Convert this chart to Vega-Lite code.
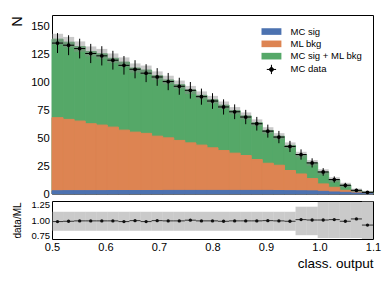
{
  "$schema": "https://vega.github.io/schema/vega-lite/v6.json",
  "padding": {"left": 9, "top": 14, "right": 8, "bottom": 4},
  "bounds": "flush",
  "spacing": 7,
  "config": {
    "font": "Liberation Sans",
    "view": {"stroke": "#000000", "strokeWidth": 1},
    "axis": {"grid": false, "domain": false, "tickColor": "#000000", "labelColor": "#000000", "titleColor": "#000000", "titleFontWeight": "normal", "labelFont": "Liberation Sans", "titleFont": "Liberation Sans", "zindex": 1, "labelOverlap": false, "labelBound": false, "labelFlush": false}
  },
  "datasets": {
    "bins": [
      {"x0": 0.5, "x1": 0.5207, "xc": 0.5103, "sig": 2.9, "bkg": 68.2, "tot": 138.4, "hlo": 133.6, "hhi": 143.2, "n": 134.9, "nlo": 126.0, "nhi": 143.8, "ratio": 0.975, "rlo": 0.83, "rhi": 1.13},
      {"x0": 0.5207, "x1": 0.5414, "xc": 0.531, "sig": 3.0, "bkg": 66.7, "tot": 135.7, "hlo": 131.0, "hhi": 140.4, "n": 133.0, "nlo": 124.1, "nhi": 141.9, "ratio": 0.98, "rlo": 0.83, "rhi": 1.13},
      {"x0": 0.5414, "x1": 0.5621, "xc": 0.5517, "sig": 3.0, "bkg": 65.2, "tot": 131.8, "hlo": 127.2, "hhi": 136.4, "n": 130.0, "nlo": 121.2, "nhi": 138.8, "ratio": 0.986, "rlo": 0.83, "rhi": 1.13},
      {"x0": 0.5621, "x1": 0.5828, "xc": 0.5724, "sig": 3.0, "bkg": 62.8, "tot": 127.4, "hlo": 122.9, "hhi": 131.9, "n": 125.6, "nlo": 117.0, "nhi": 134.2, "ratio": 0.986, "rlo": 0.83, "rhi": 1.13},
      {"x0": 0.5828, "x1": 0.6034, "xc": 0.5931, "sig": 3.0, "bkg": 61.6, "tot": 125.3, "hlo": 120.9, "hhi": 129.7, "n": 123.5, "nlo": 114.9, "nhi": 132.1, "ratio": 0.986, "rlo": 0.83, "rhi": 1.13},
      {"x0": 0.6034, "x1": 0.6241, "xc": 0.6138, "sig": 3.1, "bkg": 59.8, "tot": 121.3, "hlo": 117.0, "hhi": 125.6, "n": 119.6, "nlo": 111.2, "nhi": 128.0, "ratio": 0.986, "rlo": 0.83, "rhi": 1.13},
      {"x0": 0.6241, "x1": 0.6448, "xc": 0.6345, "sig": 3.1, "bkg": 57.1, "tot": 117.9, "hlo": 113.7, "hhi": 122.1, "n": 115.0, "nlo": 106.7, "nhi": 123.3, "ratio": 0.975, "rlo": 0.83, "rhi": 1.13},
      {"x0": 0.6448, "x1": 0.6655, "xc": 0.6552, "sig": 3.1, "bkg": 55.3, "tot": 112.6, "hlo": 108.5, "hhi": 116.7, "n": 111.5, "nlo": 103.4, "nhi": 119.6, "ratio": 0.99, "rlo": 0.83, "rhi": 1.13},
      {"x0": 0.6655, "x1": 0.6862, "xc": 0.6759, "sig": 3.1, "bkg": 54.2, "tot": 110.8, "hlo": 106.8, "hhi": 114.8, "n": 108.0, "nlo": 100.0, "nhi": 116.0, "ratio": 0.975, "rlo": 0.83, "rhi": 1.13},
      {"x0": 0.6862, "x1": 0.7069, "xc": 0.6966, "sig": 3.1, "bkg": 51.7, "tot": 105.7, "hlo": 101.8, "hhi": 109.6, "n": 104.6, "nlo": 96.7, "nhi": 112.5, "ratio": 0.99, "rlo": 0.83, "rhi": 1.13},
      {"x0": 0.7069, "x1": 0.7276, "xc": 0.7172, "sig": 3.2, "bkg": 50.2, "tot": 101.9, "hlo": 98.1, "hhi": 105.7, "n": 100.5, "nlo": 92.8, "nhi": 108.2, "ratio": 0.986, "rlo": 0.83, "rhi": 1.13},
      {"x0": 0.7276, "x1": 0.7483, "xc": 0.7379, "sig": 3.2, "bkg": 47.9, "tot": 97.7, "hlo": 94.0, "hhi": 101.4, "n": 96.3, "nlo": 88.7, "nhi": 103.9, "ratio": 0.986, "rlo": 0.83, "rhi": 1.13},
      {"x0": 0.7483, "x1": 0.769, "xc": 0.7586, "sig": 3.2, "bkg": 45.7, "tot": 93.0, "hlo": 89.4, "hhi": 96.6, "n": 92.7, "nlo": 85.3, "nhi": 100.1, "ratio": 0.997, "rlo": 0.83, "rhi": 1.13},
      {"x0": 0.769, "x1": 0.7897, "xc": 0.7793, "sig": 3.2, "bkg": 43.7, "tot": 88.2, "hlo": 84.7, "hhi": 91.7, "n": 87.0, "nlo": 79.8, "nhi": 94.2, "ratio": 0.986, "rlo": 0.83, "rhi": 1.13},
      {"x0": 0.7897, "x1": 0.8103, "xc": 0.8, "sig": 3.2, "bkg": 41.3, "tot": 84.3, "hlo": 80.9, "hhi": 87.7, "n": 83.1, "nlo": 76.1, "nhi": 90.1, "ratio": 0.986, "rlo": 0.83, "rhi": 1.13},
      {"x0": 0.8103, "x1": 0.831, "xc": 0.8207, "sig": 3.2, "bkg": 38.9, "tot": 79.4, "hlo": 76.1, "hhi": 82.7, "n": 77.8, "nlo": 71.0, "nhi": 84.6, "ratio": 0.98, "rlo": 0.83, "rhi": 1.13},
      {"x0": 0.831, "x1": 0.8517, "xc": 0.8414, "sig": 3.2, "bkg": 36.5, "tot": 74.5, "hlo": 71.3, "hhi": 77.7, "n": 73.5, "nlo": 66.9, "nhi": 80.1, "ratio": 0.986, "rlo": 0.83, "rhi": 1.13},
      {"x0": 0.8517, "x1": 0.8724, "xc": 0.8621, "sig": 3.2, "bkg": 34.4, "tot": 69.8, "hlo": 66.7, "hhi": 72.9, "n": 68.8, "nlo": 62.4, "nhi": 75.2, "ratio": 0.986, "rlo": 0.83, "rhi": 1.13},
      {"x0": 0.8724, "x1": 0.8931, "xc": 0.8828, "sig": 3.2, "bkg": 30.8, "tot": 63.7, "hlo": 60.7, "hhi": 66.7, "n": 62.8, "nlo": 56.7, "nhi": 68.9, "ratio": 0.986, "rlo": 0.83, "rhi": 1.13},
      {"x0": 0.8931, "x1": 0.9138, "xc": 0.9034, "sig": 3.2, "bkg": 27.5, "tot": 56.8, "hlo": 53.9, "hhi": 59.7, "n": 56.2, "nlo": 50.4, "nhi": 62.0, "ratio": 0.99, "rlo": 0.83, "rhi": 1.13},
      {"x0": 0.9138, "x1": 0.9345, "xc": 0.9241, "sig": 3.1, "bkg": 25.7, "tot": 51.6, "hlo": 48.8, "hhi": 54.4, "n": 50.9, "nlo": 45.4, "nhi": 56.4, "ratio": 0.986, "rlo": 0.83, "rhi": 1.13},
      {"x0": 0.9345, "x1": 0.9552, "xc": 0.9448, "sig": 3.0, "bkg": 21.0, "tot": 43.4, "hlo": 40.7, "hhi": 46.1, "n": 42.5, "nlo": 37.5, "nhi": 47.5, "ratio": 0.98, "rlo": 0.83, "rhi": 1.13},
      {"x0": 0.9552, "x1": 0.9759, "xc": 0.9655, "sig": 2.9, "bkg": 17.9, "tot": 35.1, "hlo": 32.5, "hhi": 37.7, "n": 35.3, "nlo": 30.7, "nhi": 39.9, "ratio": 1.006, "rlo": 0.76, "rhi": 1.21},
      {"x0": 0.9759, "x1": 0.9966, "xc": 0.9862, "sig": 2.8, "bkg": 13.8, "tot": 27.8, "hlo": 25.3, "hhi": 30.3, "n": 27.8, "nlo": 23.7, "nhi": 31.9, "ratio": 1.0, "rlo": 0.76, "rhi": 1.21},
      {"x0": 0.9966, "x1": 1.0172, "xc": 1.0069, "sig": 2.4, "bkg": 9.0, "tot": 19.7, "hlo": 17.3, "hhi": 22.1, "n": 19.7, "nlo": 16.3, "nhi": 23.1, "ratio": 1.0, "rlo": 0.715, "rhi": 1.285},
      {"x0": 1.0172, "x1": 1.0379, "xc": 1.0276, "sig": 1.8, "bkg": 6.0, "tot": 12.8, "hlo": 10.6, "hhi": 15.0, "n": 12.9, "nlo": 10.1, "nhi": 15.7, "ratio": 1.006, "rlo": 0.715, "rhi": 1.285},
      {"x0": 1.0379, "x1": 1.0586, "xc": 1.0483, "sig": 1.5, "bkg": 3.3, "tot": 8.0, "hlo": 6.0, "hhi": 10.0, "n": 7.8, "nlo": 5.6, "nhi": 10.0, "ratio": 0.98, "rlo": 0.715, "rhi": 1.285},
      {"x0": 1.0586, "x1": 1.0793, "xc": 1.069, "sig": 0.9, "bkg": 1.8, "tot": 3.2, "hlo": 1.6, "hhi": 4.8, "n": 3.3, "nlo": 1.9, "nhi": 4.7, "ratio": 1.017, "rlo": 0.715, "rhi": 1.285},
      {"x0": 1.0793, "x1": 1.1, "xc": 1.0897, "sig": 0.6, "bkg": 0.6, "tot": 1.6, "hlo": 0.4, "hhi": 2.8, "n": 1.5, "nlo": 0.6, "nhi": 2.4, "ratio": 0.92, "rlo": 0.7, "rhi": 1.3}
    ]
  },
  "vconcat": [
    {
      "width": 321,
      "height": 179,
      "data": {"name": "bins"},
      "resolve": {"axis": {"y": "independent"}},
      "layer": [
        {
          "mark": {"type": "rect", "fill": "#55a868", "stroke": "#55a868", "strokeWidth": 1},
          "encoding": {
            "x": {"field": "x0", "type": "quantitative", "scale": {"domain": [0.5, 1.1], "nice": false, "zero": false}, "axis": null},
            "x2": {"field": "x1"},
            "y": {"field": "tot", "type": "quantitative", "scale": {"domain": [0, 160], "nice": false},
              "axis": {"orient": "left", "values": [0,5,10,15,20,25,30,35,40,45,50,55,60,65,70,75,80,85,90,95,100,105,110,115,120,125,130,135,140,145,150,155],
                "labelExpr": "datum.value % 25 === 0 ? datum.label : ''", "tickSize": 0, "labelPadding": 2.7, "labelFontSize": 11.2,
                "title": "N", "titleFontSize": 14.5, "titleAngle": -90, "titleAlign": "center", "titleBaseline": "alphabetic", "titleX": -30.3, "titleY": 6,
                "encode": {"ticks": {"update": {"x2": {"signal": "datum.value % 25 === 0 ? 8 : 4"}}}}}},
            "y2": {"datum": 0}
          }
        },
        {
          "mark": {"type": "rect", "fill": "#dd8452", "stroke": "#dd8452", "strokeWidth": 1},
          "encoding": {
            "x": {"field": "x0", "type": "quantitative", "scale": {"domain": [0.5, 1.1], "nice": false, "zero": false}, "axis": null},
            "x2": {"field": "x1"},
            "y": {"field": "bkg", "type": "quantitative", "scale": {"domain": [0, 160], "nice": false},
              "axis": {"orient": "right", "values": [0,5,10,15,20,25,30,35,40,45,50,55,60,65,70,75,80,85,90,95,100,105,110,115,120,125,130,135,140,145,150,155],
                "labels": false, "tickSize": 0, "title": null,
                "encode": {"ticks": {"update": {"x2": {"signal": "datum.value % 25 === 0 ? -8 : -4"}}}}}},
            "y2": {"datum": 0}
          }
        },
        {
          "mark": {"type": "rect", "fill": "#4c72b0", "stroke": "#4c72b0", "strokeWidth": 1},
          "encoding": {
            "x": {"field": "x0", "type": "quantitative", "scale": {"domain": [0.5, 1.1], "nice": false, "zero": false}, "axis": null},
            "x2": {"field": "x1"},
            "y": {"field": "sig", "type": "quantitative", "scale": {"domain": [0, 160], "nice": false}, "axis": null},
            "y2": {"datum": 0}
          }
        },
        {
          "mark": {"type": "rect", "color": "#8a8a8a", "opacity": 0.45},
          "encoding": {
            "x": {"field": "x0", "type": "quantitative", "scale": {"domain": [0.5, 1.1], "nice": false, "zero": false}, "axis": null},
            "x2": {"field": "x1"},
            "y": {"field": "hlo", "type": "quantitative", "scale": {"domain": [0, 160], "nice": false}, "axis": null},
            "y2": {"field": "hhi"}
          }
        },
        {
          "mark": {"type": "rule", "color": "#000000", "strokeWidth": 1},
          "encoding": {
            "x": {"field": "xc", "type": "quantitative", "scale": {"domain": [0.5, 1.1], "nice": false, "zero": false}, "axis": null},
            "y": {"field": "nlo", "type": "quantitative", "scale": {"domain": [0, 160], "nice": false}, "axis": null},
            "y2": {"field": "nhi"}
          }
        },
        {
          "mark": {"type": "rule", "color": "#000000", "strokeWidth": 1},
          "encoding": {
            "x": {"field": "x0", "type": "quantitative", "scale": {"domain": [0.5, 1.1], "nice": false, "zero": false}, "axis": null},
            "x2": {"field": "x1"},
            "y": {"field": "n", "type": "quantitative", "scale": {"domain": [0, 160], "nice": false}, "axis": null}
          }
        },
        {
          "mark": {"type": "circle", "size": 14, "opacity": 1},
          "encoding": {
            "x": {"field": "xc", "type": "quantitative", "scale": {"domain": [0.5, 1.1], "nice": false, "zero": false}, "axis": null},
            "y": {"field": "n", "type": "quantitative", "scale": {"domain": [0, 160], "nice": false}, "axis": null},
            "color": {"datum": "MC data", "type": "nominal",
              "scale": {"domain": ["MC sig", "ML bkg", "MC sig + ML bkg", "MC data"], "range": ["#4c72b0", "#dd8452", "#55a868", "#000000"]},
              "legend": {"orient": "none", "legendX": 214.7, "legendY": 11.8, "title": null, "padding": 0, "symbolSize": 44, "labelOffset": 14.4, "rowPadding": 0.3,
                "labelFontSize": 9.5, "labelFont": "Liberation Sans", "labelColor": "#000000", "symbolType": "M-3,-1H3V1H-3Z", "symbolOpacity": 1,
                "encode": {"symbols": {"update": {
                  "shape": {"signal": "datum.value === 'MC data' ? 'M-1.4,0H1.4M0,-1.4V1.4M-0.6,0A0.6,0.6 0 1 0 0.6,0A0.6,0.6 0 1 0 -0.6,0Z' : 'M-3,-1H3V1H-3Z'"},
                  "stroke": {"signal": "datum.value === 'MC data' ? '#000000' : 'transparent'"},
                  "strokeWidth": {"value": 1},
                  "fillOpacity": {"value": 1},
                  "opacity": {"value": 1}}}}}}
          }
        }
      ]
    },
    {
      "width": 321,
      "height": 38,
      "data": {"name": "bins"},
      "resolve": {"axis": {"x": "independent", "y": "independent"}},
      "layer": [
        {
          "mark": {"type": "rect", "color": "#8a8a8a", "opacity": 0.45, "clip": true},
          "encoding": {
            "x": {"field": "x0", "type": "quantitative", "scale": {"domain": [0.5, 1.1], "nice": false, "zero": false},
              "axis": {"orient": "bottom", "values": [0.5,0.52,0.54,0.56,0.58,0.6,0.62,0.64,0.66,0.68,0.7,0.72,0.74,0.76,0.78,0.8,0.82,0.84,0.86,0.88,0.9,0.92,0.94,0.96,0.98,1.0,1.02,1.04,1.06,1.08,1.1],
                "labelExpr": "abs(datum.value*10 - round(datum.value*10)) < 0.001 ? format(datum.value, '.1f') : ''",
                "tickSize": 0, "labelPadding": 2, "labelFontSize": 11,
                "title": "class. output", "titleFontSize": 13.5, "titleAnchor": "end", "titleAlign": "right", "titleBaseline": "alphabetic", "titleX": 321, "titleY": 28,
                "encode": {"ticks": {"update": {"y2": {"signal": "abs(datum.value*10 - round(datum.value*10)) < 0.001 ? -5 : -2.5"}}}}}},
            "x2": {"field": "x1"},
            "y": {"field": "rlo", "type": "quantitative", "scale": {"domain": [0.7, 1.3], "nice": false, "zero": false},
              "axis": {"orient": "left", "values": [0.7,0.75,0.8,0.85,0.9,0.95,1.0,1.05,1.1,1.15,1.2,1.25,1.3],
                "labelExpr": "abs(datum.value*4 - round(datum.value*4)) < 0.001 ? format(datum.value, '.2f') : ''",
                "tickSize": 0, "labelPadding": 2.5, "labelFontSize": 9.5,
                "title": "data/ML", "titleFontSize": 10, "titleAngle": -90, "titleAlign": "center", "titleBaseline": "alphabetic", "titleX": -31.5, "titleY": 19,
                "encode": {"ticks": {"update": {"x2": {"signal": "abs(datum.value*4 - round(datum.value*4)) < 0.001 ? 7 : 3.5"}}}}}},
            "y2": {"field": "rhi"}
          }
        },
        {
          "mark": {"type": "rule", "color": "#333333", "strokeWidth": 1},
          "encoding": {
            "x": {"field": "x0", "type": "quantitative", "scale": {"domain": [0.5, 1.1], "nice": false, "zero": false},
              "axis": {"orient": "top", "values": [0.5,0.52,0.54,0.56,0.58,0.6,0.62,0.64,0.66,0.68,0.7,0.72,0.74,0.76,0.78,0.8,0.82,0.84,0.86,0.88,0.9,0.92,0.94,0.96,0.98,1.0,1.02,1.04,1.06,1.08,1.1],
                "labels": false, "tickSize": 0, "title": null,
                "encode": {"ticks": {"update": {"y2": {"signal": "abs(datum.value*10 - round(datum.value*10)) < 0.001 ? 5 : 2.5"}}}}}},
            "x2": {"field": "x1"},
            "y": {"field": "ratio", "type": "quantitative", "scale": {"domain": [0.7, 1.3], "nice": false, "zero": false},
              "axis": {"orient": "right", "values": [0.7,0.75,0.8,0.85,0.9,0.95,1.0,1.05,1.1,1.15,1.2,1.25,1.3],
                "labels": false, "tickSize": 0, "title": null,
                "encode": {"ticks": {"update": {"x2": {"signal": "abs(datum.value*4 - round(datum.value*4)) < 0.001 ? -7 : -3.5"}}}}}}
          }
        },
        {
          "mark": {"type": "circle", "size": 11, "opacity": 1, "color": "#111111"},
          "encoding": {
            "x": {"field": "xc", "type": "quantitative", "scale": {"domain": [0.5, 1.1], "nice": false, "zero": false}, "axis": null},
            "y": {"field": "ratio", "type": "quantitative", "scale": {"domain": [0.7, 1.3], "nice": false, "zero": false}, "axis": null}
          }
        }
      ]
    }
  ]
}
